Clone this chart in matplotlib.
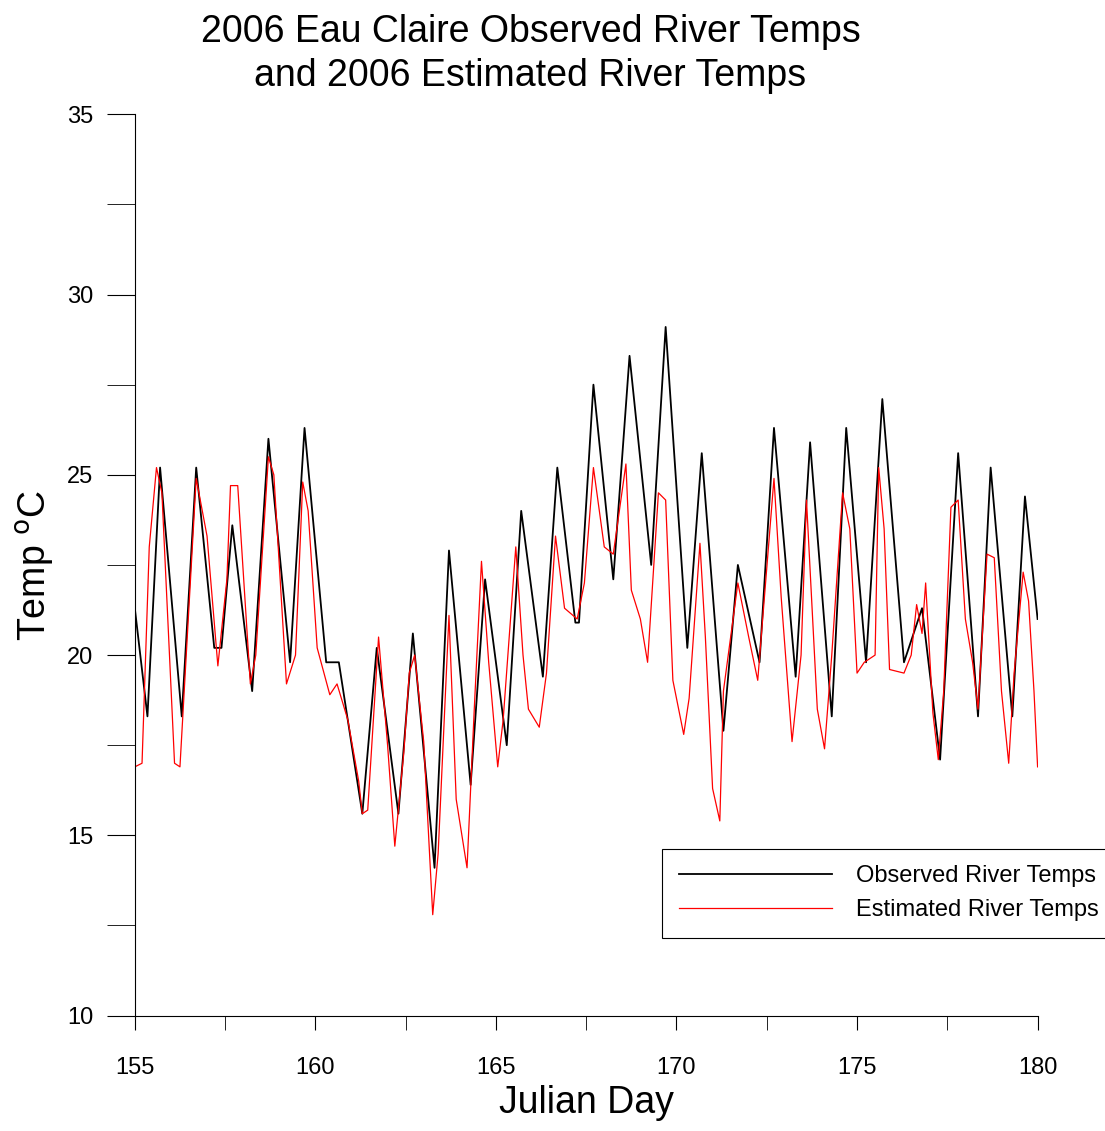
import matplotlib
matplotlib.use("Agg")
import matplotlib.pyplot as plt
from matplotlib.ticker import MultipleLocator

obs_day = [155.0,155.35,155.7,156.3,156.7,157.2,157.4,157.7,158.25,158.7,159.3,159.7,160.3,160.65,161.3,161.7,162.3,162.7,163.3,163.7,164.3,164.7,165.3,165.7,166.3,166.7,167.2,167.3,167.7,168.25,168.7,169.3,169.7,170.3,170.7,171.3,171.7,172.3,172.7,173.3,173.7,174.3,174.7,175.25,175.7,176.3,176.8,177.3,177.8,178.35,178.7,179.3,179.65,180.0]
obs_temp = [21.3,18.3,25.2,18.3,25.2,20.2,20.2,23.6,19.0,26.0,19.8,26.3,19.8,19.8,15.6,20.2,15.6,20.6,14.1,22.9,16.4,22.1,17.5,24.0,19.4,25.2,20.9,20.9,27.5,22.1,28.3,22.5,29.1,20.2,25.6,17.9,22.5,19.8,26.3,19.4,25.9,18.3,26.3,19.8,27.1,19.8,21.3,17.1,25.6,18.3,25.2,18.3,24.4,21.0]

est_day = [155.0,155.2,155.4,155.6,155.75,156.1,156.25,156.7,157.0,157.3,157.55,157.65,157.85,158.2,158.35,158.7,158.85,159.2,159.45,159.65,159.8,160.05,160.4,160.6,160.9,161.2,161.3,161.45,161.75,162.0,162.2,162.45,162.6,162.75,163.0,163.25,163.4,163.7,163.9,164.2,164.4,164.6,164.8,165.05,165.2,165.55,165.75,165.9,166.2,166.4,166.65,166.9,167.25,167.45,167.7,168.0,168.25,168.6,168.75,169.0,169.2,169.5,169.7,169.9,170.2,170.35,170.65,170.8,171.0,171.2,171.3,171.5,171.7,172.0,172.25,172.7,172.9,173.2,173.45,173.6,173.9,174.1,174.3,174.6,174.8,175.0,175.2,175.5,175.6,175.75,175.9,176.3,176.5,176.65,176.8,176.9,177.1,177.25,177.4,177.6,177.8,178.0,178.2,178.35,178.6,178.8,179.0,179.2,179.35,179.6,179.75,179.9,180.0]
est_temp = [16.9,17.0,23.0,25.2,24.5,17.0,16.9,24.9,23.3,19.7,22.1,24.7,24.7,19.2,20.0,25.5,25.0,19.2,20.0,24.8,24.0,20.2,18.9,19.2,18.2,16.5,15.6,15.7,20.5,17.5,14.7,17.3,19.5,20.0,17.6,12.8,14.5,21.1,16.0,14.1,18.5,22.6,19.8,16.9,18.2,23.0,20.0,18.5,18.0,19.5,23.3,21.3,21.0,22.0,25.2,23.0,22.8,25.3,21.8,21.0,19.8,24.5,24.3,19.3,17.8,18.8,23.1,20.5,16.3,15.4,19.0,20.5,22.0,20.5,19.3,24.9,21.6,17.6,20.0,24.3,18.5,17.4,20.0,24.5,23.5,19.5,19.8,20.0,25.2,23.5,19.6,19.5,20.0,21.4,20.6,22.0,18.4,17.1,19.0,24.1,24.3,21.0,19.8,18.5,22.8,22.7,19.0,17.0,19.5,22.3,21.5,19.0,16.9]

fam = "Liberation Sans"
fig = plt.figure(figsize=(11.05, 11.31), dpi=100)
ax = fig.add_axes([0.122, 0.102, 0.817, 0.797])
ax.plot(obs_day, obs_temp, color="black", lw=1.3, label="Observed River Temps")
ax.plot(est_day, est_temp, color="red", lw=0.9, label="Estimated River Temps")
ax.set_xlim(155, 180)
ax.set_ylim(10, 35)
for s in ["top", "right"]:
    ax.spines[s].set_visible(False)
ax.xaxis.set_major_locator(MultipleLocator(5))
ax.xaxis.set_minor_locator(MultipleLocator(2.5))
ax.yaxis.set_major_locator(MultipleLocator(5))
ax.yaxis.set_minor_locator(MultipleLocator(2.5))
ax.tick_params(axis="y", which="both", direction="out", length=20, labelsize=17, pad=10)
ax.tick_params(axis="x", which="both", direction="out", length=10, labelsize=17, pad=20)
ax.set_xlabel("Julian Day", fontsize=27, family=fam, labelpad=4)
ax.set_ylabel("Temp $^{\\mathrm{o}}$C", fontsize=27, family=fam, labelpad=8)
for t in ax.get_xticklabels() + ax.get_yticklabels():
    t.set_family(fam)
fig.suptitle("2006 Eau Claire Observed River Temps\nand 2006 Estimated River Temps",
             fontsize=27, family=fam, x=0.48, y=0.988, linespacing=1.3)
leg = ax.legend(loc="upper left", bbox_to_anchor=(0.584, 0.185),
                prop={"family": fam, "size": 17}, fancybox=False,
                framealpha=1, edgecolor="black", handlelength=6.5, borderpad=0.7,
                handletextpad=1.0, borderaxespad=0)
leg.get_frame().set_linewidth(0.8)
fig.savefig("out.png")
